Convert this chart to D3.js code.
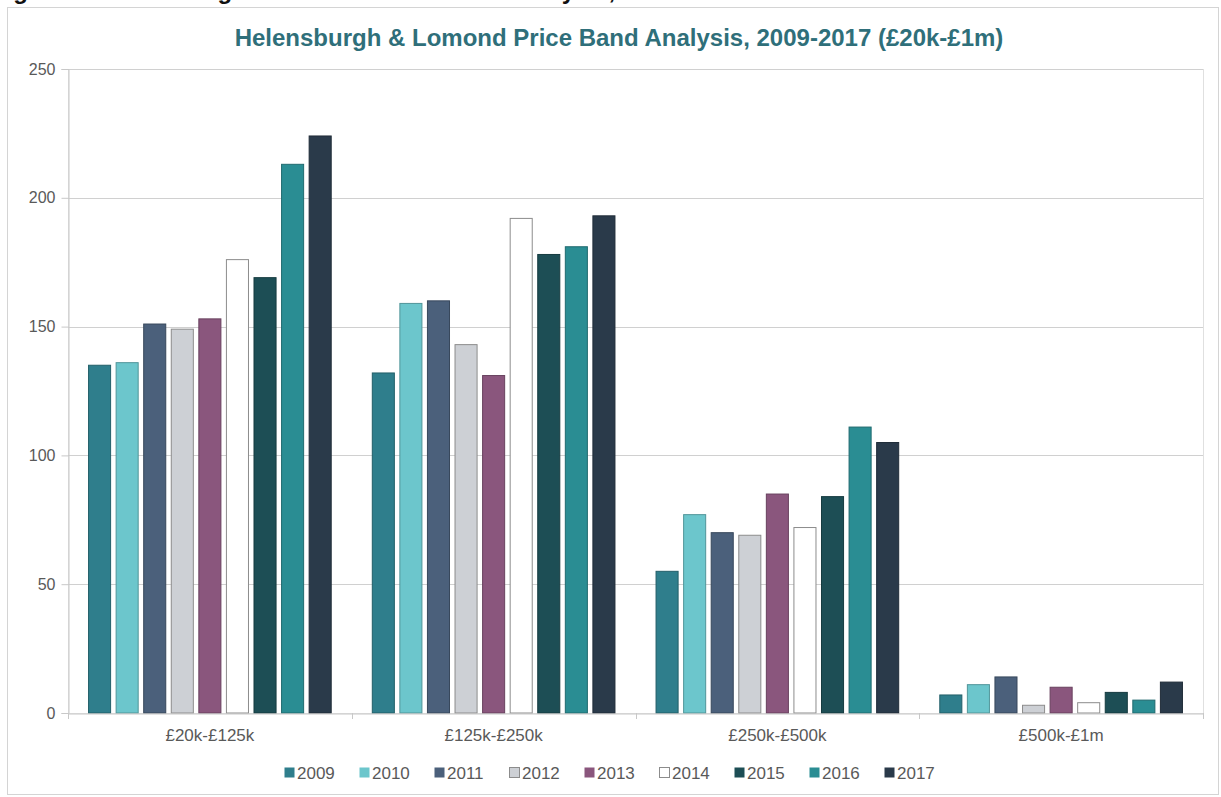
<!DOCTYPE html>
<html>
<head>
<meta charset="utf-8">
<script src="https://cdn.jsdelivr.net/npm/d3@7"></script>
<style>
  html, body { margin: 0; padding: 0; background: #ffffff; }
  svg { display: block; font-family: "Liberation Sans", Arial, sans-serif; }
</style>
</head>
<body>
<svg id="chart" width="1221" height="797"></svg>
<script>
const categories = ["£20k-£125k", "£125k-£250k", "£250k-£500k", "£500k-£1m"];
const years = ["2009", "2010", "2011", "2012", "2013", "2014", "2015", "2016", "2017"];
const s2009 = [135, 132, 55, 7];
const s2010 = [136, 159, 77, 11];
const s2011 = [151, 160, 70, 14];
const s2012 = [149, 143, 69, 3];
const s2013 = [153, 131, 85, 10];
const s2014 = [176, 192, 72, 4];
const s2015 = [169, 178, 84, 8];
const s2016 = [213, 181, 111, 5];
const s2017 = [224, 193, 105, 12];
const yTicks = [0, 50, 100, 150, 200, 250];
const colors = ["#2f7e8c", "#6cc6cc", "#4b607b", "#cdd0d5", "#8a567d", "#ffffff", "#1d4e55", "#2a8d93", "#2a3a4a"];

const seriesValues = [s2009, s2010, s2011, s2012, s2013, s2014, s2015, s2016, s2017];
const table = categories.map((c, i) => ({
  category: c,
  values: years.map((y, j) => ({ year: y, value: seriesValues[j][i], idx: j }))
}));

const svg = d3.select("#chart");
const plot = { left: 68, right: 1203, top: 69, bottom: 713 };

// outer frame
svg.append("rect").attr("x", 7.5).attr("y", 7.5).attr("width", 1211).attr("height", 787)
  .attr("fill", "#ffffff").attr("stroke", "#d4d4d4").attr("stroke-width", 1);

// cut-off caption at the very top (only its lower part is visible, as in the source)
svg.append("text").attr("x", -8).attr("y", -1)
  .attr("font-size", 24).attr("font-weight", "bold").attr("fill", "#111")
  .text("Figure 8: Helensburgh & Lomond Price Band Analysis, 2009-2017");

const x0 = d3.scaleBand().domain(categories).range([plot.left, plot.right]).paddingInner(0).paddingOuter(0);
const x1 = d3.scaleBand().domain(years).range([0, x0.bandwidth()]).paddingInner(0.2).paddingOuter(0.745);
const y = d3.scaleLinear().domain([0, 250]).range([plot.bottom, plot.top]);

// plot area border
svg.append("rect").attr("x", plot.left + 0.5).attr("y", plot.top + 0.5)
  .attr("width", plot.right - plot.left).attr("height", plot.bottom - plot.top)
  .attr("fill", "none").attr("stroke", "#e0e0e0");

// gridlines
svg.append("g").selectAll("line").data(yTicks.filter(t => t > 0)).join("line")
  .attr("x1", plot.left).attr("x2", plot.right)
  .attr("y1", d => Math.round(y(d)) + 0.5).attr("y2", d => Math.round(y(d)) + 0.5)
  .attr("stroke", "#d0d0d0").attr("stroke-width", 1);

// y axis
const yAxis = d3.axisLeft(y).tickValues(yTicks).tickSize(7).tickPadding(6);
const gy = svg.append("g").attr("transform", `translate(${plot.left + 0.5},0)`).call(yAxis);
gy.select(".domain").attr("stroke", "#c8c8c8");
gy.selectAll(".tick line").attr("stroke", "#c8c8c8");
gy.selectAll(".tick text").attr("font-size", 16).attr("fill", "#595959")
  .attr("font-family", "'Liberation Sans', Arial, sans-serif");

// bars
const groups = svg.append("g").selectAll("g").data(table).join("g")
  .attr("transform", d => `translate(${x0(d.category)},0)`);
groups.selectAll("rect").data(d => d.values).join("rect")
  .attr("x", d => x1(d.year))
  .attr("y", d => y(d.value))
  .attr("width", x1.bandwidth())
  .attr("height", d => y(0) - y(d.value))
  .attr("fill", d => colors[d.idx])
  .attr("stroke", d => (d.idx === 3 || d.idx === 5) ? "#8c8c8c" : d3.color(colors[d.idx]).darker(0.8))
  .attr("stroke-width", 1);

// x axis
const xAxis = d3.axisBottom(x0).tickSize(0).tickPadding(15);
const gx = svg.append("g").attr("transform", `translate(0,${plot.bottom + 0.5})`).call(xAxis);
gx.select(".domain").attr("stroke", "#c8c8c8");
gx.selectAll(".tick text").attr("font-size", 17).attr("fill", "#595959")
  .attr("font-family", "'Liberation Sans', Arial, sans-serif");
// category boundary ticks
svg.append("g").selectAll("line").data(categories.concat(["end"])).join("line")
  .attr("x1", (d, i) => Math.round(plot.left + i * x0.step()) + 0.5)
  .attr("x2", (d, i) => Math.round(plot.left + i * x0.step()) + 0.5)
  .attr("y1", plot.bottom).attr("y2", plot.bottom + 6)
  .attr("stroke", "#c8c8c8");

// title
svg.append("text").attr("x", 619).attr("y", 46).attr("text-anchor", "middle")
  .attr("font-size", 24).attr("font-weight", "bold").attr("fill", "#2f6f7a")
  .text("Helensburgh & Lomond Price Band Analysis, 2009-2017 (£20k-£1m)");

// legend
const legendX = d3.scaleBand().domain(years).range([284, 959]);
const lg = svg.append("g").selectAll("g").data(years).join("g")
  .attr("transform", d => `translate(${legendX(d)},773)`);
lg.append("rect").attr("x", 0.5).attr("y", -5.5).attr("width", 10).attr("height", 10)
  .attr("fill", (d, i) => colors[i])
  .attr("stroke", (d, i) => (i === 3 || i === 5) ? "#8c8c8c" : "none");
lg.append("text").attr("x", 13).attr("y", 6).attr("font-size", 17).attr("fill", "#595959")
  .text(d => d);
</script>
</body>
</html>
